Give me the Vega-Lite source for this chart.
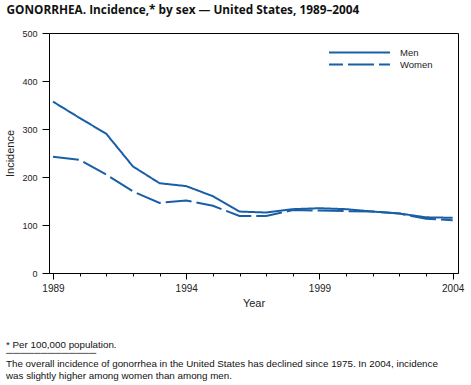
{
  "$schema": "https://vega.github.io/schema/vega-lite/v6.json",
  "padding": {"left": 4, "top": 4, "right": 3, "bottom": 3},
  "background": "white",
  "title": {
    "text": "GONORRHEA. Incidence,* by sex — United States, 1989–2004",
    "anchor": "start",
    "frame": "bounds",
    "font": "Open Sans",
    "fontSize": 11.8,
    "fontWeight": "bold",
    "color": "#111",
    "offset": 12,
    "dx": 2
  },
  "config": {
    "font": "Liberation Sans",
    "view": {"stroke": "black", "strokeWidth": 1},
    "axis": {"domainColor": "black", "tickColor": "black", "labelColor": "#222", "titleColor": "#222", "grid": false, "titleFontWeight": "normal"}
  },
  "spacing": 30,
  "resolve": {"legend": {"strokeDash": "independent"}},
  "vconcat": [
    {
      "width": 409,
      "height": 240,
      "data": {
        "values": [
          {"year": 1989, "sex": "Men", "incidence": 357},
          {"year": 1990, "sex": "Men", "incidence": 323},
          {"year": 1991, "sex": "Men", "incidence": 290},
          {"year": 1992, "sex": "Men", "incidence": 222},
          {"year": 1993, "sex": "Men", "incidence": 187},
          {"year": 1994, "sex": "Men", "incidence": 181},
          {"year": 1995, "sex": "Men", "incidence": 160},
          {"year": 1996, "sex": "Men", "incidence": 128},
          {"year": 1997, "sex": "Men", "incidence": 126},
          {"year": 1998, "sex": "Men", "incidence": 133},
          {"year": 1999, "sex": "Men", "incidence": 135},
          {"year": 2000, "sex": "Men", "incidence": 133},
          {"year": 2001, "sex": "Men", "incidence": 128},
          {"year": 2002, "sex": "Men", "incidence": 124},
          {"year": 2003, "sex": "Men", "incidence": 116},
          {"year": 2004, "sex": "Men", "incidence": 115},
          {"year": 1989, "sex": "Women", "incidence": 242},
          {"year": 1990, "sex": "Women", "incidence": 236},
          {"year": 1991, "sex": "Women", "incidence": 205},
          {"year": 1992, "sex": "Women", "incidence": 170},
          {"year": 1993, "sex": "Women", "incidence": 146},
          {"year": 1994, "sex": "Women", "incidence": 151},
          {"year": 1995, "sex": "Women", "incidence": 140},
          {"year": 1996, "sex": "Women", "incidence": 119},
          {"year": 1997, "sex": "Women", "incidence": 119},
          {"year": 1998, "sex": "Women", "incidence": 131},
          {"year": 1999, "sex": "Women", "incidence": 130},
          {"year": 2000, "sex": "Women", "incidence": 129},
          {"year": 2001, "sex": "Women", "incidence": 128},
          {"year": 2002, "sex": "Women", "incidence": 124},
          {"year": 2003, "sex": "Women", "incidence": 113},
          {"year": 2004, "sex": "Women", "incidence": 110}
        ]
      },
      "mark": {"type": "line", "strokeWidth": 2, "color": "#1a5fa6"},
      "encoding": {
        "x": {
          "field": "year",
          "type": "quantitative",
          "scale": {"domain": [1988.85, 2004.2], "nice": false, "zero": false},
          "axis": {
            "title": "Year",
            "values": [1989, 1990, 1991, 1992, 1993, 1994, 1995, 1996, 1997, 1998, 1999, 2000, 2001, 2002, 2003, 2004],
            "format": "d",
            "labelExpr": "datum.value % 5 === 4 ? datum.label : ''",
            "tickSize": {"condition": {"test": "datum.value % 5 === 4", "value": 6}, "value": 3},
            "labelFontSize": 10,
            "labelPadding": 4,
            "titleFontSize": 11,
            "titlePadding": 4
          }
        },
        "y": {
          "field": "incidence",
          "type": "quantitative",
          "scale": {"domain": [0, 500], "nice": false},
          "axis": {
            "title": "Incidence",
            "values": [0, 100, 200, 300, 400, 500],
            "tickSize": 7,
            "labelFontSize": 9,
            "labelPadding": 5,
            "titleFontSize": 11,
            "titlePadding": 6
          }
        },
        "strokeDash": {
          "field": "sex",
          "type": "nominal",
          "scale": {"domain": ["Men", "Women"], "range": [[1, 0], [26, 5]]},
          "legend": {
            "title": null,
            "orient": "none",
            "legendX": 304,
            "legendY": 13,
            "padding": 0,
            "symbolType": "M-5.545,0H5.545",
            "symbolSize": 121,
            "symbolStrokeWidth": 2,
            "symbolStrokeColor": "#1a5fa6",
            "symbolDashOffset": 12,
            "labelFontSize": 9.5,
            "labelColor": "#222",
            "labelOffset": 34,
            "rowPadding": 1
          }
        }
      }
    },
    {
      "width": 409,
      "height": 0.01,
      "data": {"values": []},
      "mark": "text",
      "encoding": {},
      "view": {"stroke": null},
      "title": {
        "text": ["* Per 100,000 population.", "─────────────"],
        "lineHeight": 8.7,
        "subtitle": ["The overall incidence of gonorrhea in the United States has declined since 1975. In 2004, incidence", "was slightly higher among women than among men."],
        "subtitleFontSize": 9.8,
        "subtitleLineHeight": 12.5,
        "subtitleColor": "#111",
        "subtitleFont": "Liberation Sans",
        "subtitlePadding": 0.5,
        "anchor": "start",
        "fontSize": 9.8,
        "fontWeight": "normal",
        "color": "#111",
        "offset": 0,
        "dx": -43
      }
    }
  ]
}
